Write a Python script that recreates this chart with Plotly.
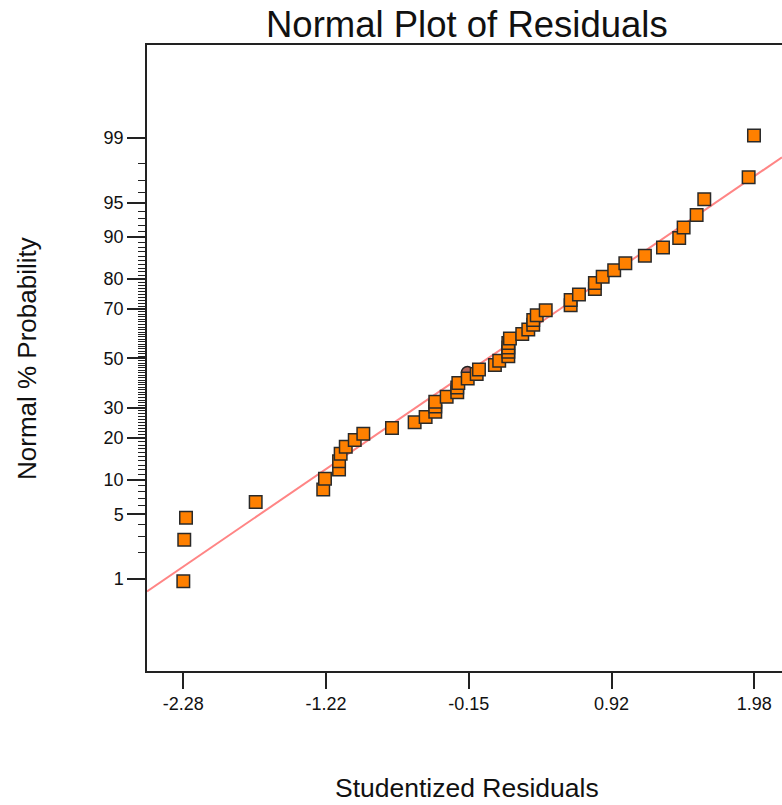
import plotly.graph_objects as go
from statistics import NormalDist

# ---------------- data ----------------
# studentized residuals, in rank order
residuals = [-2.280, -2.273, -2.260, -1.740, -1.236, -1.223, -1.118, -1.118, -1.106, -1.068,
             -1.001, -0.937, -0.723, -0.554, -0.472, -0.400, -0.400, -0.400, -0.315, -0.236,
             -0.236, -0.228, -0.158, -0.091, -0.074, 0.045, 0.077, 0.145, 0.145, 0.145,
             0.145, 0.157, 0.249, 0.294, 0.331, 0.331, 0.357, 0.424, 0.610, 0.610,
             0.672, 0.791, 0.791, 0.849, 0.935, 1.018, 1.164, 1.299, 1.420, 1.453,
             1.550, 1.607, 1.938, 1.978]
# normal % probability of each point
probabilities = [0.93, 2.78, 4.63, 6.48, 8.33, 10.19, 12.04, 13.89, 15.74, 17.59,
                 19.44, 21.30, 23.15, 25.00, 26.85, 28.70, 30.56, 32.41, 34.26, 36.11,
                 37.96, 39.81, 41.67, 43.52, 45.37, 47.22, 49.07, 50.93, 52.78, 54.63,
                 56.48, 58.33, 60.19, 62.04, 63.89, 65.74, 67.59, 69.44, 71.30, 73.15,
                 75.00, 76.85, 78.70, 80.56, 82.41, 84.26, 86.11, 87.96, 89.81, 91.67,
                 93.52, 95.37, 97.22, 99.07]
# highlighted (brown) point partly hidden behind the others
highlight_residual = [-0.160]
highlight_probability = [44.1]

# fitted reference line (endpoints at the plot edges)
fit_residuals = [-2.551, 2.187]
fit_probabilities = [0.695, 98.32]

x_tickvals = [-2.28, -1.215, -0.15, 0.915, 1.98]
x_ticktext = ["-2.28", "-1.22", "-0.15", "0.92", "1.98"]
y_major = [1, 5, 10, 20, 30, 50, 70, 80, 90, 95, 99]
y_minor = [p for p in range(2, 99) if p not in y_major]

x_range = [-2.551, 2.187]
z_range = [-3.30, 3.31]

nd = NormalDist()
def z(p):
    return nd.inv_cdf(p / 100.0)

fig = go.Figure()

fig.add_trace(go.Scatter(
    x=fit_residuals, y=[z(p) for p in fit_probabilities],
    mode="lines", line=dict(color="#FF8585", width=2), hoverinfo="skip",
    showlegend=False, cliponaxis=True))

fig.add_trace(go.Scatter(
    x=highlight_residual, y=[z(p) for p in highlight_probability],
    mode="markers",
    marker=dict(symbol="circle", size=12, color="#B4645A",
                line=dict(color="#222222", width=1.5)),
    showlegend=False))

fig.add_trace(go.Scatter(
    x=residuals, y=[z(p) for p in probabilities],
    mode="markers",
    marker=dict(symbol="square", size=12.5, color="#FF8000",
                line=dict(color="#2A2A2A", width=1.5)),
    showlegend=False, cliponaxis=False))

font_family = "Liberation Sans, Arial, sans-serif"

fig.update_layout(
    width=782, height=805,
    margin=dict(l=147, r=0, t=45, b=134),
    paper_bgcolor="white", plot_bgcolor="white",
    font=dict(family=font_family, color="#111111"),
    showlegend=False,
    xaxis=dict(
        range=x_range, showgrid=False, zeroline=False,
        showline=True, linecolor="#222222", linewidth=1.5, mirror=True,
        ticks="outside", ticklen=16, tickwidth=1.5, tickcolor="#222222",
        tickmode="array", tickvals=x_tickvals, ticktext=x_ticktext,
        tickfont=dict(size=18, family=font_family, color="#111111"),
    ),
    yaxis=dict(
        range=z_range, showgrid=False, zeroline=False,
        showline=True, linecolor="#222222", linewidth=1.5, mirror=False,
        ticks="outside", ticklen=18, tickwidth=1.5, tickcolor="#222222",
        tickmode="array", tickvals=[z(p) for p in y_major],
        ticktext=[str(p) for p in y_major],
        tickfont=dict(size=18, family=font_family, color="#111111"),
        minor=dict(tickmode="array", tickvals=[z(p) for p in y_minor],
                   ticks="outside", ticklen=7, tickwidth=1.2, tickcolor="#222222",
                   showgrid=False),
    ),
    annotations=[
        dict(text="Normal Plot of Residuals", xref="paper", yref="paper",
             x=0.504, y=1.0335, xanchor="center", yanchor="middle", showarrow=False,
             font=dict(size=36.5, family=font_family, color="#111111")),
        dict(text="Studentized Residuals", xref="paper", yref="paper",
             x=0.504, y=-0.187, xanchor="center", yanchor="middle", showarrow=False,
             font=dict(size=26.5, family=font_family, color="#111111")),
        dict(text="Normal % Probability", xref="paper", yref="paper",
             x=-0.189, y=0.5, xanchor="center", yanchor="middle", showarrow=False,
             textangle=-90,
             font=dict(size=26, family=font_family, color="#111111")),
    ],
)

fig.write_html("out.html")
